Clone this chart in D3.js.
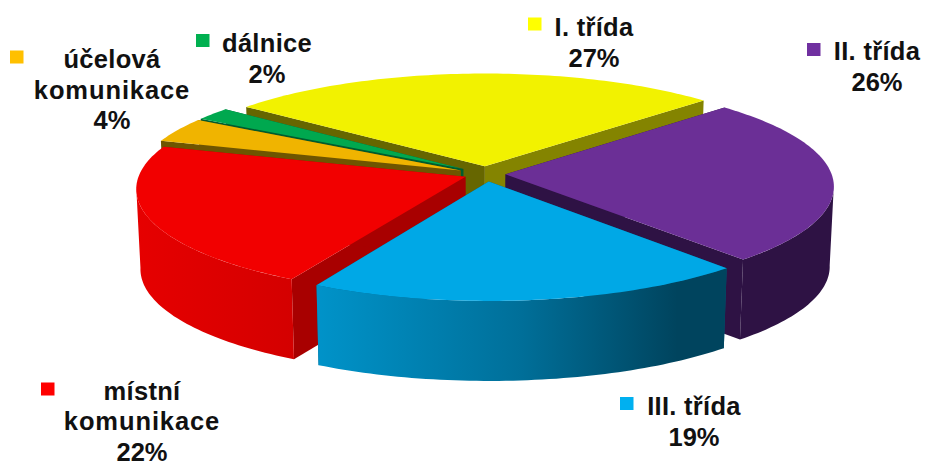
<!DOCTYPE html>
<html>
<head>
<meta charset="utf-8">
<script src="https://cdn.jsdelivr.net/npm/d3@7"></script>
<style>
  html, body { margin: 0; padding: 0; background: #fff; }
  svg { display: block; }
</style>
</head>
<body>
<div class="pieChart"></div>
<script>
var categories = ["I. třída", "II. třída", "III. třída", "místní komunikace", "účelová komunikace", "dálnice"];
var shares = [27.4, 25.5, 19.4, 21.9, 3.8, 2.0];
var percentLabels = ["27%", "26%", "19%", "22%", "4%", "2%"];

// label lines are split by hand, same as the picture
var labelLines = [
  ["I. třída", "27%"],
  ["II. třída", "26%"],
  ["III. třída", "19%"],
  ["místní", "komunikace", "22%"],
  ["účelová", "komunikace", "4%"],
  ["dálnice", "2%"]
];

var topColors = ["#f2f200", "#6b2f96", "#00a8e6", "#f20000", "#f0b400", "#00a84f"];
var keyColors = ["#ffff00", "#7030a0", "#00b0f0", "#ff0000", "#ffc000", "#00b050"];
var startWallColors = ["#666600", "#2e1244", "#00587a", "#a80000", "#6e5500", "#005c2e"];
var endWallColors = ["#848400", "#2e1244", "#00587a", "#a80000", "#6e5500", "#005c2e"];

var labelPos = [[594, 36], [877, 60], [694, 415], [142, 399.5], [112, 68], [267, 52]];
var keyPos = [[528, 17.5], [807, 43], [620, 397], [41, 382.5], [10, 50.5], [196, 34]];
var explodeBy = [0.075, 0.06, 0.072, 0.068, 0.085, 0.085];

function init() {
  var w = 925;
  var h = 462;
  var cx = 486;
  var cy = 174;
  var kx = 326;
  var ky = 104.5;
  var persp = 0.11;
  var depth = 80;
  var drawOrder = [0, 5, 4, 3, 1, 2];
  // rim is only seen from the front between these angles
  var frontFrom = 96 * Math.PI / 180;
  var frontTo = 264 * Math.PI / 180;

  var svg = d3.select(".pieChart")
    .append("svg")
    .attr("width", w)
    .attr("height", h);

  var defs = svg.append("defs");

  function addGradient(id, stops) {
    var g = defs.append("linearGradient").attr("id", id);
    stops.forEach(function(s) {
      g.append("stop").attr("offset", s[0]).attr("stop-color", s[1]);
    });
  }
  addGradient("wall2", [[0, "#0093c9"], [0.5, "#006f99"], [0.88, "#00445e"], [1, "#00445e"]]);
  addGradient("wall3", [[0, "#e60000"], [1, "#d40000"]]);

  var outerWallFills = ["#848400", "#2e1244", "url(#wall2)", "url(#wall3)", "#6e5500", "#005c2e"];

  // plane coords: X right, Y away from viewer, Z down the wall (0..1)
  function project(X, Y, Z) {
    var s = 1 / (1 + persp * Y);
    var shrink = 1 - 0.012 * Z;
    return [cx + kx * X * s * shrink, cy - ky * Y * s + depth * Z];
  }

  var pie = d3.pie()
    .sort(null)
    .startAngle(-52 * Math.PI / 180)
    .endAngle((360 - 52) * Math.PI / 180);

  var arcs = pie(shares);
  var line = d3.line();

  function rimPoints(d, i, z, from, to) {
    var mid = (d.startAngle + d.endAngle) / 2;
    var ax = explodeBy[i] * Math.sin(mid);
    var ay = explodeBy[i] * Math.cos(mid);
    var pts = [];
    var n = Math.max(1, Math.ceil((to - from) / 0.02));
    d3.range(n + 1).forEach(function(k) {
      var t = from + (to - from) * k / n;
      pts.push(project(ax + Math.sin(t), ay + Math.cos(t), z));
    });
    return pts;
  }

  function apex(d, i, z) {
    var mid = (d.startAngle + d.endAngle) / 2;
    return project(explodeBy[i] * Math.sin(mid), explodeBy[i] * Math.cos(mid), z);
  }

  drawOrder.forEach(function(i) {
    var d = arcs[i];
    var g = svg.append("g");
    var top = rimPoints(d, i, 0, d.startAngle, d.endAngle);
    var bottom = rimPoints(d, i, 1, d.startAngle, d.endAngle);

    // radial walls
    g.append("path")
      .attr("d", line([apex(d, i, 0), top[0], bottom[0], apex(d, i, 1)]) + "Z")
      .attr("fill", startWallColors[i]);
    g.append("path")
      .attr("d", line([apex(d, i, 0), top[top.length - 1], bottom[bottom.length - 1], apex(d, i, 1)]) + "Z")
      .attr("fill", endWallColors[i]);

    // outer wall, front part only
    var from = Math.max(d.startAngle, frontFrom);
    var to = Math.min(d.endAngle, frontTo);
    if (d.startAngle >= 0 && to > from) {
      var wallTop = rimPoints(d, i, 0, from, to);
      var wallBottom = rimPoints(d, i, 1, from, to);
      g.append("path")
        .attr("d", line(wallTop.concat(wallBottom.reverse())) + "Z")
        .attr("fill", outerWallFills[i]);
    }

    // top face
    g.append("path")
      .attr("d", line([apex(d, i, 0)].concat(top)) + "Z")
      .attr("fill", topColors[i]);
  });

  // keys and labels
  svg.selectAll("rect.key")
    .data(categories)
    .enter()
    .append("rect")
    .attr("class", "key")
    .attr("x", function(d, i) { return keyPos[i][0]; })
    .attr("y", function(d, i) { return keyPos[i][1]; })
    .attr("width", 13.5)
    .attr("height", 13)
    .attr("fill", function(d, i) { return keyColors[i]; });

  var labels = svg.selectAll("text.label")
    .data(labelLines)
    .enter()
    .append("text")
    .attr("class", "label")
    .attr("text-anchor", "middle")
    .attr("font-family", "'Liberation Sans', Arial, sans-serif")
    .attr("font-weight", "bold")
    .attr("font-size", "25.5px")
    .attr("fill", "#111");

  labels.selectAll("tspan")
    .data(function(d, i) {
      return d.map(function(t, j) {
        return { text: j === d.length - 1 ? percentLabels[i] : t, x: labelPos[i][0], y: labelPos[i][1] + j * 30.5 };
      });
    })
    .enter()
    .append("tspan")
    .attr("x", function(d) { return d.x; })
    .attr("y", function(d) { return d.y; })
    .attr("letter-spacing", function(d) {
      if (d.text === "komunikace") return 0.9;
      return d.text.indexOf("%") >= 0 ? 0 : 0.3;
    })
    .text(function(d) { return d.text; });
}

window.onload = init;
</script>
</body>
</html>
